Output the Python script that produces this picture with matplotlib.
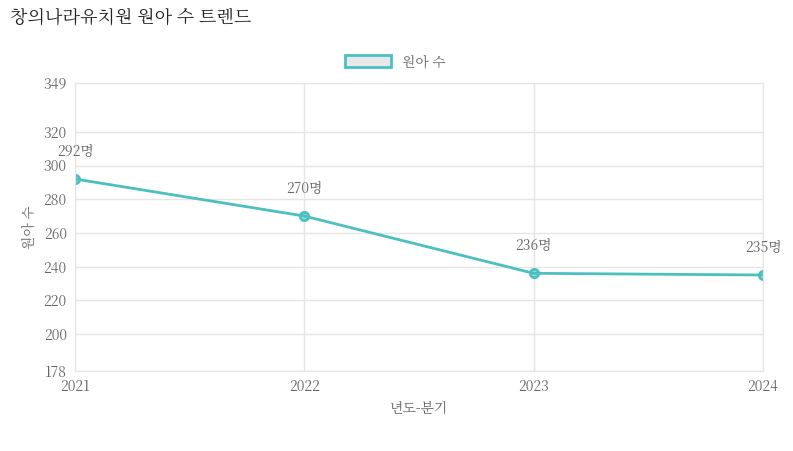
import matplotlib
matplotlib.use("Agg")
import matplotlib.pyplot as plt
from matplotlib import font_manager as fm
import glob

fam = None
for f in fm.fontManager.ttflist:
    if "CJK" in f.name and ("KR" in f.name or fam is None):
        fam = f.name
if fam is None:
    files = [p for p in glob.glob("/usr/share/fonts/**/*", recursive=True) if "CJK" in p and p.endswith((".ttc", ".otf", ".ttf"))]
    for p in files:
        fm.fontManager.addfont(p)
    for f in fm.fontManager.ttflist:
        if "CJK" in f.name and ("KR" in f.name or fam is None):
            fam = f.name
plt.rcParams["font.family"] = [fam or "Noto Sans CJK KR", "DejaVu Sans"]

years = ["2021", "2022", "2023", "2024"]
counts = [292, 270, 236, 235]
yticks = [178, 200, 220, 240, 260, 280, 300, 320, 349]
color = "#4BC0C0"

fig = plt.figure(figsize=(7.93, 4.51), dpi=100)
ax = fig.add_axes([75/793, 1-371/451, (763-75)/793, (371-83)/451])
x = list(range(len(years)))
ax.plot(x, counts, color=color, lw=2, marker="o", ms=6, mfc=color+"80", mec=color, mew=2, label="원아 수")
for xi, v in zip(x, counts):
    ax.annotate(f"{v}명", (xi, v), xytext=(0, 14), textcoords="offset points",
                ha="center", va="bottom", fontsize=10, color="#666666")
ax.set_xlim(0, len(years)-1)
ax.set_ylim(178, 349)
ax.set_xticks(x, years)
ax.set_yticks(yticks)
ax.tick_params(colors="#666666", labelsize=10, length=0, pad=6)
ax.grid(color="#e5e5e5", lw=1)
for s in ax.spines.values():
    s.set_color("#e5e5e5")
ax.set_xlabel("년도-분기", color="#666666", fontsize=10)
ax.set_ylabel("원아 수", color="#666666", fontsize=10)
fig.text(10/793, 1-18/451, "창의나라유치원 원아 수 트렌드", fontsize=13, color="#222222", va="center")
leg = fig.legend(handles=[plt.Rectangle((0, 0), 1, 1, fc="#e8e8e8", ec=color, lw=2)], labels=["원아 수"],
                 loc="center", bbox_to_anchor=(395/793, 1-62/451), frameon=False,
                 handlelength=3.3, handleheight=1.0, fontsize=10, labelcolor="#666666")
fig.savefig("out.png", dpi=100)
